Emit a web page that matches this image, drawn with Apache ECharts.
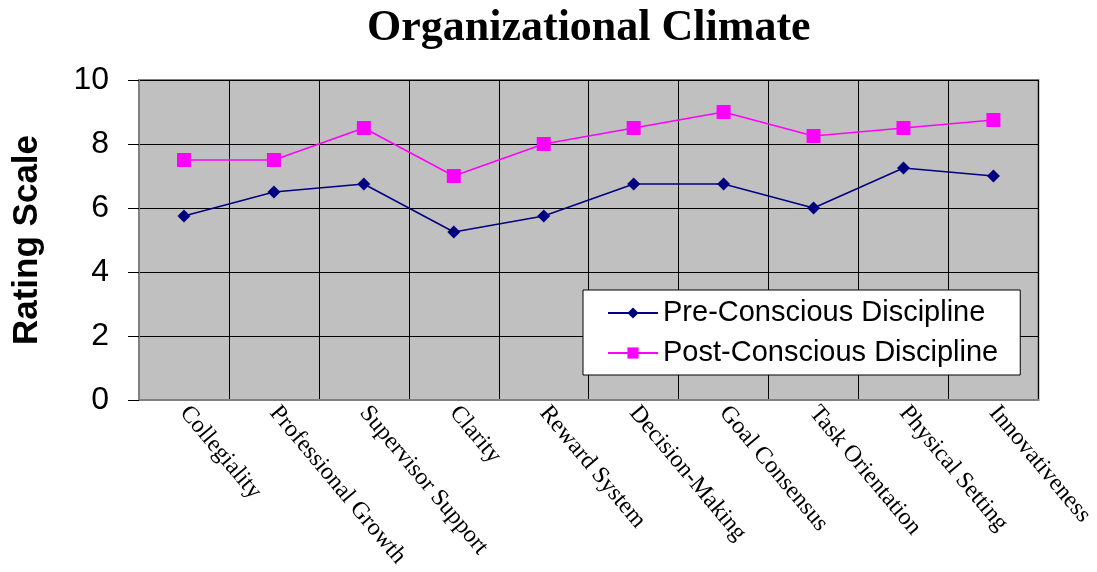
<!DOCTYPE html>
<html>
<head>
<meta charset="utf-8">
<script src="https://cdn.jsdelivr.net/npm/echarts@6/dist/echarts.min.js"></script>
<style>
  html, body { margin: 0; padding: 0; background: #ffffff; }
  #chart { width: 1097px; height: 572px; }
</style>
</head>
<body>
<div id="chart"></div>
<script>
// Climate dimensions rated before and after the Conscious Discipline programme
const categories = [
  'Collegiality', 'Professional Growth', 'Supervisor Support', 'Clarity',
  'Reward System', 'Decision-Making', 'Goal Consensus', 'Task Orientation',
  'Physical Setting', 'Innovativeness'
];
const preConscious  = [5.75, 6.5, 6.75, 5.25, 5.75, 6.75, 6.75, 6.0, 7.25, 7.0];
const postConscious = [7.5, 7.5, 8.5, 7.0, 8.0, 8.5, 9.0, 8.25, 8.5, 8.75];
const seriesNames = ['Pre-Conscious Discipline', 'Post-Conscious Discipline'];
const yTicks = { min: 0, max: 10, interval: 2 };

const chart = echarts.init(document.getElementById('chart'), null, { renderer: 'canvas' });

chart.setOption({
  animation: false,
  backgroundColor: '#ffffff',
  title: {
    text: 'Organizational Climate',
    left: 362,
    top: 2,
    textStyle: {
      fontFamily: 'Liberation Serif',
      fontWeight: 'bold',
      fontSize: 44,
      color: '#000000'
    }
  },
  grid: {
    left: 139,
    top: 80,
    right: 57,
    bottom: 172,
    show: true,
    backgroundColor: '#c0c0c0',
    borderColor: '#808080',
    borderWidth: 2
  },
  legend: {
    orient: 'vertical',
    left: 583,
    top: 290,
    backgroundColor: '#ffffff',
    borderColor: '#000000',
    borderWidth: 1,
    padding: [8, 22, 7, 24],
    itemGap: 10,
    itemWidth: 50,
    itemHeight: 14,
    textStyle: {
      fontFamily: 'Liberation Sans',
      fontSize: 29,
      lineHeight: 30,
      color: '#000000'
    },
    data: seriesNames
  },
  xAxis: {
    type: 'category',
    data: categories,
    boundaryGap: true,
    axisLine: { show: true, lineStyle: { color: '#808080', width: 2 } },
    axisTick: { show: false },
    splitLine: { show: true, interval: 0, lineStyle: { color: '#000000', width: 1 } },
    axisLabel: {
      interval: 0,
      rotate: -50,
      margin: 9,
      fontFamily: 'Liberation Serif',
      fontSize: 24,
      color: '#000000'
    }
  },
  yAxis: {
    type: 'value',
    min: yTicks.min,
    max: yTicks.max,
    interval: yTicks.interval,
    name: 'Rating Scale',
    nameLocation: 'middle',
    nameRotate: 90,
    nameGap: 94,
    nameTextStyle: {
      fontFamily: 'Liberation Sans',
      fontWeight: 'bold',
      fontSize: 35,
      color: '#000000'
    },
    axisLine: { show: true, lineStyle: { color: '#808080', width: 2 } },
    axisTick: { show: true, inside: false, length: 11, lineStyle: { color: '#000000' } },
    splitLine: { show: true, lineStyle: { color: '#000000', width: 1 } },
    axisLabel: {
      margin: 30,
      fontFamily: 'Liberation Sans',
      fontSize: 32,
      color: '#000000'
    }
  },
  series: [
    {
      name: seriesNames[0],
      type: 'line',
      data: preConscious,
      symbol: 'diamond',
      symbolSize: 13,
      lineStyle: { color: '#000080', width: 1.5 },
      itemStyle: { color: '#000080' }
    },
    {
      name: seriesNames[1],
      type: 'line',
      data: postConscious,
      symbol: 'rect',
      symbolSize: 14,
      lineStyle: { color: '#ff00ff', width: 1.5 },
      itemStyle: { color: '#ff00ff' }
    }
  ]
});
</script>
</body>
</html>
